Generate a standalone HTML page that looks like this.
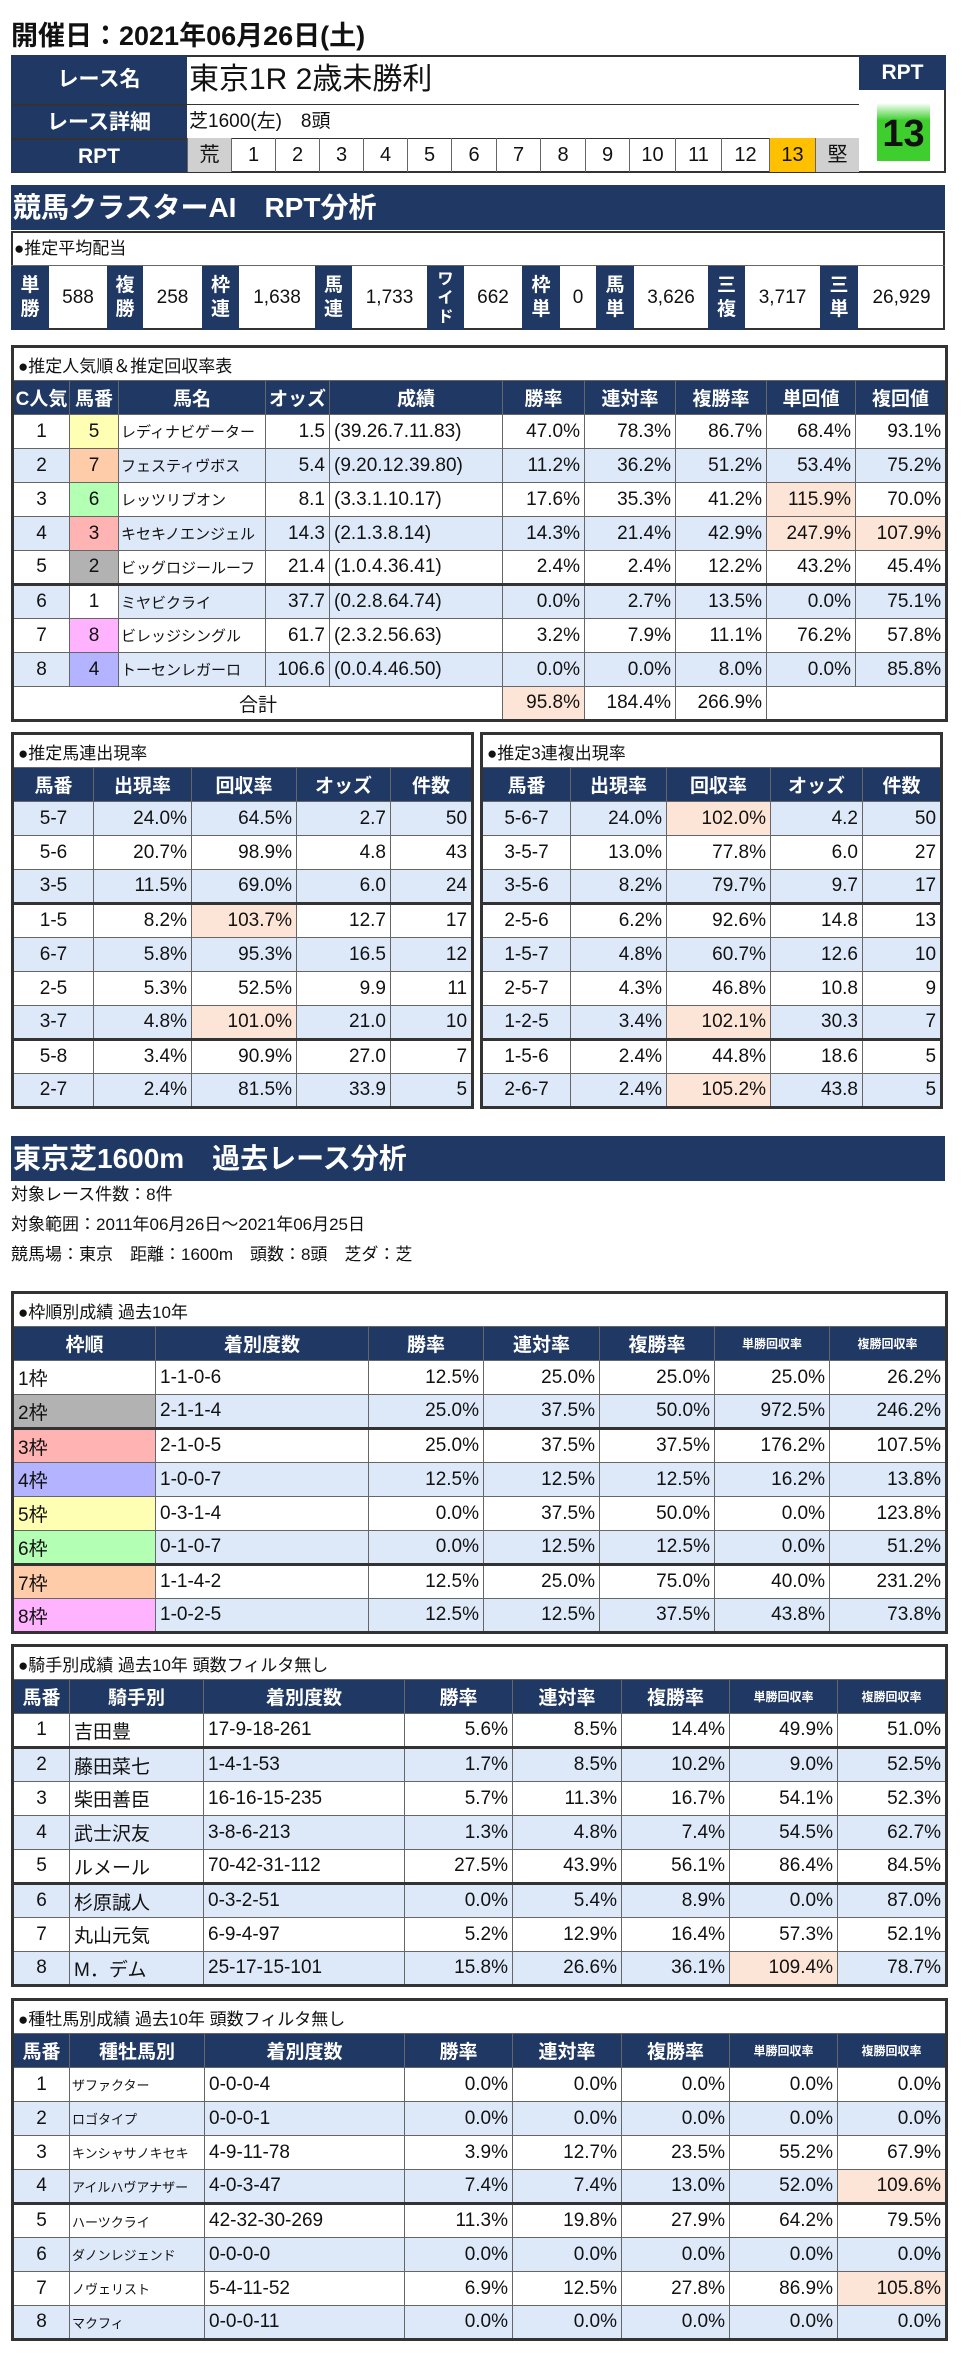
<!DOCTYPE html>
<html><head><meta charset="utf-8">
<style>
*{margin:0;padding:0;box-sizing:border-box}
body{width:976px;height:2361px;background:#fff;position:relative;font-family:"Liberation Sans","Noto Sans CJK JP",sans-serif;color:#111;overflow:hidden}
.a{position:absolute}
.nv{background:#203864;color:#fff;font-weight:bold}
table{position:absolute;border-collapse:collapse;table-layout:fixed;border:3px solid #333}
td{border:1px solid #666;padding:0 4px;font-size:19px;white-space:nowrap;overflow:hidden;text-align:right;height:34px}
td.c{text-align:center}td.l{text-align:left}
th{background:#203864;color:#fff;font-weight:bold;font-size:19px;border:1px solid #666;height:34px;white-space:nowrap;overflow:hidden}
th.s{font-size:12px}
td.t{text-align:left;font-size:17px;border-bottom:1px solid #666}
tr.b td{background:#dde8f8}
td.p{background:#fce4d6!important}
tr.k td{border-top:3px solid #333}
.f1{background:#fff!important}.f2{background:#b2b2b2!important}.f3{background:#ffb3b3!important}.f4{background:#b3b3ff!important}.f5{background:#ffffb3!important}.f6{background:#b3ffb3!important}.f7{background:#ffccaa!important}.f8{background:#ffb3ff!important}
.sec{position:absolute;left:11px;width:934px;background:#203864;color:#fff;font-weight:bold;font-size:28px;padding-left:2px}
td.n{font-size:15px;text-align:left;padding:0 2px}
td.sn{font-size:13px;text-align:left;padding:0 2px}
.rp{position:absolute;top:138px;height:34px;border-left:1px solid #666;font-size:20px;text-align:center;line-height:34px}
</style></head><body>

<div class="a" style="left:11px;top:14px;font-size:27px;font-weight:bold">開催日：2021年06月26日(土)</div>

<!-- race table -->
<div class="a" style="left:11px;top:55px;width:935px;height:118px;border:2px solid #333"></div>
<div class="a nv" style="left:11px;top:55px;width:176px;height:49px;font-size:21px;text-align:center;line-height:49px">レース名</div>
<div class="a nv" style="left:11px;top:104px;width:176px;height:34px;font-size:21px;text-align:center;line-height:34px;border-top:2px solid #333">レース詳細</div>
<div class="a nv" style="left:11px;top:138px;width:176px;height:34px;font-size:21px;text-align:center;line-height:34px;border-top:2px solid #333">RPT</div>
<div class="a" style="left:189px;top:58px;font-size:30px;line-height:44px">東京1R 2歳未勝利</div>
<div class="a" style="left:187px;top:104px;width:672px;border-top:1px solid #333"></div>
<div class="a" style="left:189px;top:106px;font-size:19px;line-height:32px">芝1600(左)　8頭</div>
<div class="a" style="left:187px;top:138px;width:672px;border-top:1px solid #333"></div>
<div class="rp" style="left:187px;width:44px;background:#d0d0d0">荒</div>
<div class="rp" style="left:231px;width:44px">1</div>
<div class="rp" style="left:275px;width:44px">2</div>
<div class="rp" style="left:319px;width:44px">3</div>
<div class="rp" style="left:363px;width:44px">4</div>
<div class="rp" style="left:407px;width:44px">5</div>
<div class="rp" style="left:451px;width:45px">6</div>
<div class="rp" style="left:496px;width:44px">7</div>
<div class="rp" style="left:540px;width:45px">8</div>
<div class="rp" style="left:585px;width:44px">9</div>
<div class="rp" style="left:629px;width:46px">10</div>
<div class="rp" style="left:675px;width:46px">11</div>
<div class="rp" style="left:721px;width:48px">12</div>
<div class="rp" style="left:769px;width:46px;background:#ffc000">13</div>
<div class="rp" style="left:815px;width:44px;background:#d0d0d0">堅</div>
<div class="a nv" style="left:859px;top:55px;width:87px;height:35px;font-size:21px;text-align:center;line-height:35px">RPT</div>
<div class="a" style="left:877px;top:103px;width:53px;height:58px;background:linear-gradient(#fff,#3ecf2e 30%,#3ecf2e);font-size:38px;font-weight:bold;text-align:center;line-height:62px">13</div>

<div class="sec" style="top:185px;height:45px;line-height:45px">競馬クラスターAI　RPT分析</div>

<!-- payout -->
<div class="a" style="left:11px;top:231px;width:934px;height:99px;border:2px solid #333"></div>
<div class="a" style="left:14px;top:233px;font-size:17px;line-height:32px">●推定平均配当</div>
<div class="a" style="left:11px;top:265px;width:934px;border-top:1px solid #666"></div>
<div class="a nv" style="left:11px;top:266px;width:38px;height:64px;font-size:19px;text-align:center;line-height:24px;padding-top:8px">単<br>勝</div>
<div class="a" style="left:49px;top:266px;width:58px;height:64px;font-size:19px;text-align:center;line-height:64px">588</div>
<div class="a nv" style="left:107px;top:266px;width:36px;height:64px;font-size:19px;text-align:center;line-height:24px;padding-top:8px">複<br>勝</div>
<div class="a" style="left:143px;top:266px;width:59px;height:64px;font-size:19px;text-align:center;line-height:64px">258</div>
<div class="a nv" style="left:202px;top:266px;width:37px;height:64px;font-size:19px;text-align:center;line-height:24px;padding-top:8px">枠<br>連</div>
<div class="a" style="left:239px;top:266px;width:76px;height:64px;font-size:19px;text-align:center;line-height:64px">1,638</div>
<div class="a nv" style="left:315px;top:266px;width:37px;height:64px;font-size:19px;text-align:center;line-height:24px;padding-top:8px">馬<br>連</div>
<div class="a" style="left:352px;top:266px;width:75px;height:64px;font-size:19px;text-align:center;line-height:64px">1,733</div>
<div class="a nv" style="left:427px;top:266px;width:37px;height:64px;font-size:16px;text-align:center;line-height:19px;padding-top:4px">ワ<br>イ<br>ド</div>
<div class="a" style="left:464px;top:266px;width:58px;height:64px;font-size:19px;text-align:center;line-height:64px">662</div>
<div class="a nv" style="left:522px;top:266px;width:38px;height:64px;font-size:19px;text-align:center;line-height:24px;padding-top:8px">枠<br>単</div>
<div class="a" style="left:560px;top:266px;width:36px;height:64px;font-size:19px;text-align:center;line-height:64px">0</div>
<div class="a nv" style="left:596px;top:266px;width:38px;height:64px;font-size:19px;text-align:center;line-height:24px;padding-top:8px">馬<br>単</div>
<div class="a" style="left:634px;top:266px;width:74px;height:64px;font-size:19px;text-align:center;line-height:64px">3,626</div>
<div class="a nv" style="left:708px;top:266px;width:37px;height:64px;font-size:19px;text-align:center;line-height:24px;padding-top:8px">三<br>複</div>
<div class="a" style="left:745px;top:266px;width:75px;height:64px;font-size:19px;text-align:center;line-height:64px">3,717</div>
<div class="a nv" style="left:820px;top:266px;width:38px;height:64px;font-size:19px;text-align:center;line-height:24px;padding-top:8px">三<br>単</div>
<div class="a" style="left:858px;top:266px;width:87px;height:64px;font-size:19px;text-align:center;line-height:64px">26,929</div>

<!-- popularity table -->
<table style="left:11px;top:345px;width:934px">
<colgroup><col style="width:57px"><col style="width:49px"><col style="width:147px"><col style="width:64px"><col style="width:173px"><col style="width:82px"><col style="width:91px"><col style="width:91px"><col style="width:89px"><col style="width:91px"></colgroup>
<tr><td colspan="10" class="t">●推定人気順＆推定回収率表</td></tr>
<tr><th>C人気</th><th>馬番</th><th>馬名</th><th>オッズ</th><th>成績</th><th>勝率</th><th>連対率</th><th>複勝率</th><th>単回値</th><th>複回値</th></tr>
<tr><td class="c">1</td><td class="c f5">5</td><td class="n">レディナビゲーター</td><td>1.5</td><td class="l">(39.26.7.11.83)</td><td>47.0%</td><td>78.3%</td><td>86.7%</td><td>68.4%</td><td>93.1%</td></tr>
<tr class="b"><td class="c">2</td><td class="c f7">7</td><td class="n">フェスティヴボス</td><td>5.4</td><td class="l">(9.20.12.39.80)</td><td>11.2%</td><td>36.2%</td><td>51.2%</td><td>53.4%</td><td>75.2%</td></tr>
<tr><td class="c">3</td><td class="c f6">6</td><td class="n">レッツリブオン</td><td>8.1</td><td class="l">(3.3.1.10.17)</td><td>17.6%</td><td>35.3%</td><td>41.2%</td><td class="p">115.9%</td><td>70.0%</td></tr>
<tr class="b"><td class="c">4</td><td class="c f3">3</td><td class="n">キセキノエンジェル</td><td>14.3</td><td class="l">(2.1.3.8.14)</td><td>14.3%</td><td>21.4%</td><td>42.9%</td><td class="p">247.9%</td><td class="p">107.9%</td></tr>
<tr><td class="c">5</td><td class="c f2">2</td><td class="n">ビッグロジールーフ</td><td>21.4</td><td class="l">(1.0.4.36.41)</td><td>2.4%</td><td>2.4%</td><td>12.2%</td><td>43.2%</td><td>45.4%</td></tr>
<tr class="b k"><td class="c">6</td><td class="c f1">1</td><td class="n">ミヤビクライ</td><td>37.7</td><td class="l">(0.2.8.64.74)</td><td>0.0%</td><td>2.7%</td><td>13.5%</td><td>0.0%</td><td>75.1%</td></tr>
<tr><td class="c">7</td><td class="c f8">8</td><td class="n">ビレッジシングル</td><td>61.7</td><td class="l">(2.3.2.56.63)</td><td>3.2%</td><td>7.9%</td><td>11.1%</td><td>76.2%</td><td>57.8%</td></tr>
<tr class="b"><td class="c">8</td><td class="c f4">4</td><td class="n">トーセンレガーロ</td><td>106.6</td><td class="l">(0.0.4.46.50)</td><td>0.0%</td><td>0.0%</td><td>8.0%</td><td>0.0%</td><td>85.8%</td></tr>
<tr><td colspan="5" class="c">合計</td><td class="p">95.8%</td><td>184.4%</td><td>266.9%</td><td colspan="2"></td></tr>
</table>

<!-- umaren -->
<table style="left:11px;top:732px;width:460px">
<colgroup><col style="width:81px"><col style="width:98px"><col style="width:105px"><col style="width:94px"><col style="width:82px"></colgroup>
<tr><td colspan="5" class="t">●推定馬連出現率</td></tr>
<tr><th>馬番</th><th>出現率</th><th>回収率</th><th>オッズ</th><th>件数</th></tr>
<tr class="b"><td class="c">5-7</td><td>24.0%</td><td>64.5%</td><td>2.7</td><td>50</td></tr>
<tr><td class="c">5-6</td><td>20.7%</td><td>98.9%</td><td>4.8</td><td>43</td></tr>
<tr class="b"><td class="c">3-5</td><td>11.5%</td><td>69.0%</td><td>6.0</td><td>24</td></tr>
<tr class="k"><td class="c">1-5</td><td>8.2%</td><td class="p">103.7%</td><td>12.7</td><td>17</td></tr>
<tr class="b"><td class="c">6-7</td><td>5.8%</td><td>95.3%</td><td>16.5</td><td>12</td></tr>
<tr><td class="c">2-5</td><td>5.3%</td><td>52.5%</td><td>9.9</td><td>11</td></tr>
<tr class="b"><td class="c">3-7</td><td>4.8%</td><td class="p">101.0%</td><td>21.0</td><td>10</td></tr>
<tr class="k"><td class="c">5-8</td><td>3.4%</td><td>90.9%</td><td>27.0</td><td>7</td></tr>
<tr class="b"><td class="c">2-7</td><td>2.4%</td><td>81.5%</td><td>33.9</td><td>5</td></tr>
</table>

<!-- sanrenpuku -->
<table style="left:480px;top:732px;width:460px">
<colgroup><col style="width:89px"><col style="width:96px"><col style="width:104px"><col style="width:92px"><col style="width:79px"></colgroup>
<tr><td colspan="5" class="t">●推定3連複出現率</td></tr>
<tr><th>馬番</th><th>出現率</th><th>回収率</th><th>オッズ</th><th>件数</th></tr>
<tr class="b"><td class="c">5-6-7</td><td>24.0%</td><td class="p">102.0%</td><td>4.2</td><td>50</td></tr>
<tr><td class="c">3-5-7</td><td>13.0%</td><td>77.8%</td><td>6.0</td><td>27</td></tr>
<tr class="b"><td class="c">3-5-6</td><td>8.2%</td><td>79.7%</td><td>9.7</td><td>17</td></tr>
<tr class="k"><td class="c">2-5-6</td><td>6.2%</td><td>92.6%</td><td>14.8</td><td>13</td></tr>
<tr class="b"><td class="c">1-5-7</td><td>4.8%</td><td>60.7%</td><td>12.6</td><td>10</td></tr>
<tr><td class="c">2-5-7</td><td>4.3%</td><td>46.8%</td><td>10.8</td><td>9</td></tr>
<tr class="b"><td class="c">1-2-5</td><td>3.4%</td><td class="p">102.1%</td><td>30.3</td><td>7</td></tr>
<tr class="k"><td class="c">1-5-6</td><td>2.4%</td><td>44.8%</td><td>18.6</td><td>5</td></tr>
<tr class="b"><td class="c">2-6-7</td><td>2.4%</td><td class="p">105.2%</td><td>43.8</td><td>5</td></tr>
</table>

<div class="sec" style="top:1136px;height:45px;line-height:45px">東京芝1600m　過去レース分析</div>
<div class="a" style="left:11px;top:1183px;font-size:17px;line-height:24px">対象レース件数：8件</div>
<div class="a" style="left:11px;top:1213px;font-size:17px;line-height:24px">対象範囲：2011年06月26日～2021年06月25日</div>
<div class="a" style="left:11px;top:1243px;font-size:17px;line-height:24px">競馬場：東京　距離：1600m　頭数：8頭　芝ダ：芝</div>

<!-- waku -->
<table style="left:11px;top:1291px;width:934px">
<colgroup><col style="width:143px"><col style="width:213px"><col style="width:115px"><col style="width:116px"><col style="width:115px"><col style="width:115px"><col style="width:117px"></colgroup>
<tr><td colspan="7" class="t">●枠順別成績 過去10年</td></tr>
<tr><th>枠順</th><th>着別度数</th><th>勝率</th><th>連対率</th><th>複勝率</th><th class="s">単勝回収率</th><th class="s">複勝回収率</th></tr>
<tr><td class="l f1">1枠</td><td class="l">1-1-0-6</td><td>12.5%</td><td>25.0%</td><td>25.0%</td><td>25.0%</td><td>26.2%</td></tr>
<tr class="b"><td class="l f2">2枠</td><td class="l">2-1-1-4</td><td>25.0%</td><td>37.5%</td><td>50.0%</td><td>972.5%</td><td>246.2%</td></tr>
<tr class="k"><td class="l f3">3枠</td><td class="l">2-1-0-5</td><td>25.0%</td><td>37.5%</td><td>37.5%</td><td>176.2%</td><td>107.5%</td></tr>
<tr class="b"><td class="l f4">4枠</td><td class="l">1-0-0-7</td><td>12.5%</td><td>12.5%</td><td>12.5%</td><td>16.2%</td><td>13.8%</td></tr>
<tr><td class="l f5">5枠</td><td class="l">0-3-1-4</td><td>0.0%</td><td>37.5%</td><td>50.0%</td><td>0.0%</td><td>123.8%</td></tr>
<tr class="b"><td class="l f6">6枠</td><td class="l">0-1-0-7</td><td>0.0%</td><td>12.5%</td><td>12.5%</td><td>0.0%</td><td>51.2%</td></tr>
<tr class="k"><td class="l f7">7枠</td><td class="l">1-1-4-2</td><td>12.5%</td><td>25.0%</td><td>75.0%</td><td>40.0%</td><td>231.2%</td></tr>
<tr class="b"><td class="l f8">8枠</td><td class="l">1-0-2-5</td><td>12.5%</td><td>12.5%</td><td>37.5%</td><td>43.8%</td><td>73.8%</td></tr>
</table>

<!-- jockey -->
<table style="left:11px;top:1644px;width:934px">
<colgroup><col style="width:57px"><col style="width:134px"><col style="width:201px"><col style="width:108px"><col style="width:109px"><col style="width:108px"><col style="width:108px"><col style="width:109px"></colgroup>
<tr><td colspan="8" class="t">●騎手別成績 過去10年 頭数フィルタ無し</td></tr>
<tr><th>馬番</th><th>騎手別</th><th>着別度数</th><th>勝率</th><th>連対率</th><th>複勝率</th><th class="s">単勝回収率</th><th class="s">複勝回収率</th></tr>
<tr><td class="c">1</td><td class="l">吉田豊</td><td class="l">17-9-18-261</td><td>5.6%</td><td>8.5%</td><td>14.4%</td><td>49.9%</td><td>51.0%</td></tr>
<tr class="b k"><td class="c">2</td><td class="l">藤田菜七</td><td class="l">1-4-1-53</td><td>1.7%</td><td>8.5%</td><td>10.2%</td><td>9.0%</td><td>52.5%</td></tr>
<tr><td class="c">3</td><td class="l">柴田善臣</td><td class="l">16-16-15-235</td><td>5.7%</td><td>11.3%</td><td>16.7%</td><td>54.1%</td><td>52.3%</td></tr>
<tr class="b"><td class="c">4</td><td class="l">武士沢友</td><td class="l">3-8-6-213</td><td>1.3%</td><td>4.8%</td><td>7.4%</td><td>54.5%</td><td>62.7%</td></tr>
<tr><td class="c">5</td><td class="l">ルメール</td><td class="l">70-42-31-112</td><td>27.5%</td><td>43.9%</td><td>56.1%</td><td>86.4%</td><td>84.5%</td></tr>
<tr class="b k"><td class="c">6</td><td class="l">杉原誠人</td><td class="l">0-3-2-51</td><td>0.0%</td><td>5.4%</td><td>8.9%</td><td>0.0%</td><td>87.0%</td></tr>
<tr><td class="c">7</td><td class="l">丸山元気</td><td class="l">6-9-4-97</td><td>5.2%</td><td>12.9%</td><td>16.4%</td><td>57.3%</td><td>52.1%</td></tr>
<tr class="b"><td class="c">8</td><td class="l">M．デム</td><td class="l">25-17-15-101</td><td>15.8%</td><td>26.6%</td><td>36.1%</td><td class="p">109.4%</td><td>78.7%</td></tr>
</table>

<!-- sire -->
<table style="left:11px;top:1998px;width:934px">
<colgroup><col style="width:57px"><col style="width:135px"><col style="width:200px"><col style="width:108px"><col style="width:109px"><col style="width:108px"><col style="width:108px"><col style="width:109px"></colgroup>
<tr><td colspan="8" class="t">●種牡馬別成績 過去10年 頭数フィルタ無し</td></tr>
<tr><th>馬番</th><th>種牡馬別</th><th>着別度数</th><th>勝率</th><th>連対率</th><th>複勝率</th><th class="s">単勝回収率</th><th class="s">複勝回収率</th></tr>
<tr><td class="c">1</td><td class="sn">ザファクター</td><td class="l">0-0-0-4</td><td>0.0%</td><td>0.0%</td><td>0.0%</td><td>0.0%</td><td>0.0%</td></tr>
<tr class="b"><td class="c">2</td><td class="sn">ロゴタイプ</td><td class="l">0-0-0-1</td><td>0.0%</td><td>0.0%</td><td>0.0%</td><td>0.0%</td><td>0.0%</td></tr>
<tr><td class="c">3</td><td class="sn">キンシャサノキセキ</td><td class="l">4-9-11-78</td><td>3.9%</td><td>12.7%</td><td>23.5%</td><td>55.2%</td><td>67.9%</td></tr>
<tr class="b"><td class="c">4</td><td class="sn">アイルハヴアナザー</td><td class="l">4-0-3-47</td><td>7.4%</td><td>7.4%</td><td>13.0%</td><td>52.0%</td><td class="p">109.6%</td></tr>
<tr class="k"><td class="c">5</td><td class="sn">ハーツクライ</td><td class="l">42-32-30-269</td><td>11.3%</td><td>19.8%</td><td>27.9%</td><td>64.2%</td><td>79.5%</td></tr>
<tr class="b"><td class="c">6</td><td class="sn">ダノンレジェンド</td><td class="l">0-0-0-0</td><td>0.0%</td><td>0.0%</td><td>0.0%</td><td>0.0%</td><td>0.0%</td></tr>
<tr><td class="c">7</td><td class="sn">ノヴェリスト</td><td class="l">5-4-11-52</td><td>6.9%</td><td>12.5%</td><td>27.8%</td><td>86.9%</td><td class="p">105.8%</td></tr>
<tr class="b"><td class="c">8</td><td class="sn">マクフィ</td><td class="l">0-0-0-11</td><td>0.0%</td><td>0.0%</td><td>0.0%</td><td>0.0%</td><td>0.0%</td></tr>
</table>

</body></html>
